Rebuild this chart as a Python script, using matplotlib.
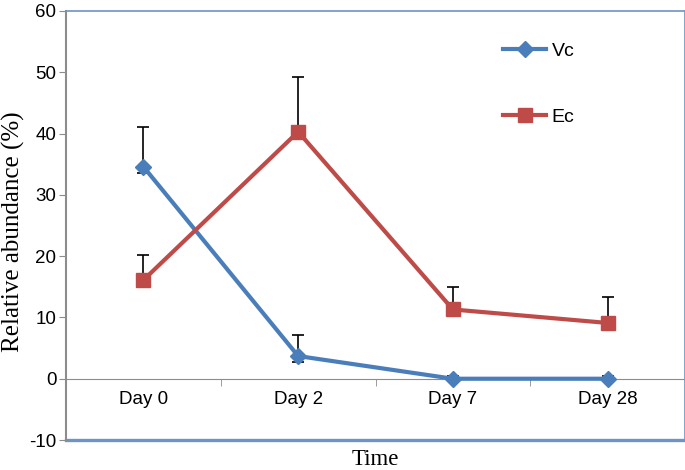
import matplotlib
matplotlib.use("Agg")
import matplotlib.pyplot as plt
import numpy as np

plt.rcParams["axes.unicode_minus"] = False

days = ["Day 0", "Day 2", "Day 7", "Day 28"]
vc = [34.6, 3.7, 0.0, 0.0]
vc_err_up = [6.5, 3.5, 0.4, 0.4]
vc_err_lo = [1.0, 1.0, 0.4, 0.4]
ec = [16.1, 40.3, 11.3, 9.1]
ec_err_up = [4.1, 8.9, 3.7, 4.3]
ec_err_lo = [0.0, 0.0, 0.0, 0.0]

blue = "#4A7EBB"
red = "#BE4B48"
grey = "#8C8C8C"
frame = "#6D94C6"

fig = plt.figure(figsize=(6.85, 4.70), dpi=100)
ax = fig.add_axes([0.0964, 0.0638, 0.9036, 0.9128])
x = np.arange(len(days))

ax.errorbar(x, vc, yerr=[vc_err_lo, vc_err_up], fmt="none", ecolor="black",
            elinewidth=1.2, capsize=4, capthick=1.2, zorder=2)
ax.errorbar(x, ec, yerr=[ec_err_lo, ec_err_up], fmt="none", ecolor="black",
            elinewidth=1.2, capsize=4, capthick=1.2, zorder=2)
ax.plot(x, vc, color=blue, lw=3, marker="D", ms=8, label="Vc", zorder=3)
ax.plot(x, ec, color=red, lw=3, marker="s", ms=10, label="Ec", zorder=3)

ax.set_xlim(-0.5, 3.5)
ax.set_ylim(-10, 60)
ax.set_yticks(np.arange(-10, 61, 10))

# x axis sits on zero, frame drawn around the plot
ax.spines["bottom"].set_position(("data", 0))
ax.spines["bottom"].set_color(grey)
ax.spines["left"].set_color(grey)
ax.spines["left"].set_linewidth(1.5)
for s in ["top", "right"]:
    ax.spines[s].set_color(frame)
    ax.spines[s].set_linewidth(1.2)
ax.axhline(-10, color=frame, lw=2.4, clip_on=False)

ax.set_xticks(x)
ax.set_xticklabels(days)
ax.set_xticks([0.5, 1.5, 2.5], minor=True)
ax.tick_params(axis="x", which="major", length=0, pad=9, labelsize=13.5)
ax.tick_params(axis="x", which="minor", length=5, color=grey, direction="out")
ax.tick_params(axis="y", length=5, color=grey, labelsize=13.5, pad=2)
for lab in ax.get_xticklabels() + ax.get_yticklabels():
    lab.set_fontfamily("Liberation Sans")

ax.set_ylabel("Relative abundance (%)", fontfamily="Liberation Serif",
              fontsize=18)
ax.yaxis.set_label_coords(-0.066, 0.485)
fig.text(0.548, 0.022, "Time", fontfamily="Liberation Serif", fontsize=16.5,
         ha="center", va="center")

ax.legend(loc="upper left", bbox_to_anchor=(0.678, 0.967), frameon=False,
          labelspacing=2.45, handlelength=2.2, handletextpad=0.3,
          prop={"family": "Liberation Sans", "size": 14})

fig.savefig("out.png", dpi=100)
